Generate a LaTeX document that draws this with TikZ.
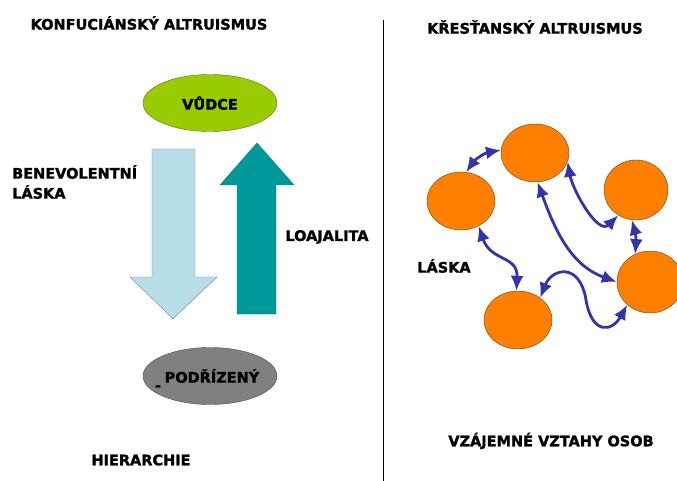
\documentclass[tikz,border=0pt]{standalone}
\usepackage{fontspec}
\setmainfont[BoldFeatures={FakeBold=1.5}]{DejaVu Sans}
\usetikzlibrary{shapes.geometric,arrows.meta,positioning}
\definecolor{leadgreen}{RGB}{153,204,0}
\definecolor{subgray}{RGB}{128,128,128}
\definecolor{loveblue}{RGB}{183,222,232}
\definecolor{loyalteal}{RGB}{0,153,153}
\definecolor{personorange}{RGB}{255,128,0}
\definecolor{linkblue}{RGB}{51,51,170}
\tikzset{
heading/.style = {font=\fontsize{14.5}{16}\selectfont\bfseries, inner sep=0pt},
tag/.style = {font=\fontsize{14.5}{20}\selectfont\bfseries, inner sep=0pt, align=left},
rank/.style = {draw, ellipse, minimum width=134pt, minimum height=57pt, inner sep=0pt, font=\fontsize{14.5}{16}\selectfont\bfseries},
person/.style = {draw=brown!50!black, fill=personorange, ellipse, minimum width=68pt, minimum height=58pt, inner sep=0pt},
link/.style = {{Latex[length=15pt,width=13pt]}-{Latex[length=15pt,width=13pt]}, draw=linkblue, line width=2.8pt}
}
\begin{document}
\begin{tikzpicture}[x=1pt, y=-1pt]
\useasboundingbox (0,0) rectangle (677,481);

% hierarchie
\node [heading] (konf) at (149,23) {KONFUCIÁNSKÝ ALTRUISMUS};
\node [rank, fill=leadgreen, draw=olive!70!black] (vudce) at (210,103) {VŮDCE};
\node [rank, fill=subgray, draw=gray!60!black] (podrizeny) at (210,376) {\makebox[0pt]{\hspace*{4pt}PODŘÍZENÝ}};
\node [heading] (carka) at (158,388) {-};

\draw [fill=loveblue, draw=gray] (152,149) -- (195,149) -- (195,277) -- (217,277)
  -- (173,319) -- (130,277) -- (152,277) -- cycle;
\draw [fill=loyalteal, draw=loyalteal!80!black] (237,314) -- (276,314) -- (276,185)
  -- (294,185) -- (257,143) -- (220,185) -- (237,185) -- cycle;

\node [tag, anchor=west] (benev) at (12,182) {BENEVOLENTNÍ\\LÁSKA};
\node [tag] (loaj) at (327,237) {LOAJALITA};
\node [heading] (hier) at (141,460) {HIERARCHIE};

\draw [line width=0.8pt] (383,20) -- (383,481);

% vzajemnost
\node [heading] (krest) at (535,27) {KŘESŤANSKÝ ALTRUISMUS};
\node [person] (top) at (535,153) {};
\node [person] (left) at (461,201) {};
\node [person, minimum width=64pt, minimum height=60pt] (rup) at (636,190) {};
\node [person, minimum width=66pt, minimum height=62pt] (rlow) at (650,282) {};
\node [person] (bottom) at (518,320) {};

\draw [link] (left.80) to[bend left=22] (top.175);
\draw [link] (top.-15) to[out=-80, in=225] (rup.235);
\draw [link] (top.-85) to[out=-70, in=160] (rlow.180);
\draw [link] (rup.262) to[bend left=10] (rlow.118);
\draw [link] (left.-55) .. controls (491,262) and (518,255) .. (bottom.93);
\draw [link] (bottom.45) .. controls (552,268) and (580,262) .. (586,300)
  .. controls (592,335) and (612,332) .. (rlow.225);

\node [heading] (laska) at (444,266) {LÁSKA};
\node [heading] (vztahy) at (551,441) {VZÁJEMNÉ VZTAHY OSOB};
\end{tikzpicture}
\end{document}
